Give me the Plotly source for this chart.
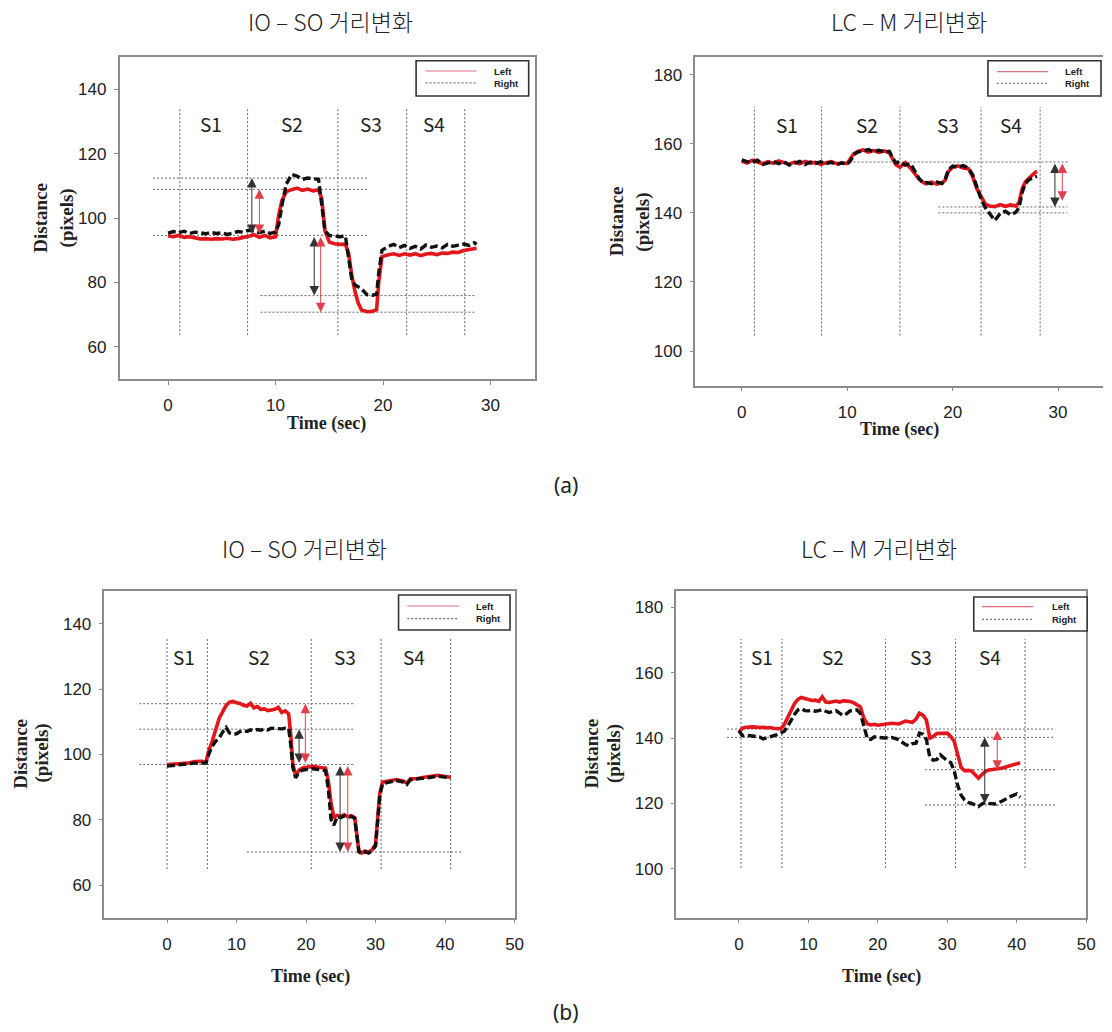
import plotly.graph_objects as go

W, H = 1112, 1032

# ---------------- data ----------------
# (a) IO - SO
a1_t = [0, 0.5, 1, 1.5, 2, 2.5, 3, 3.5, 4, 4.5, 5, 5.5, 6, 6.5, 7, 7.5, 8, 8.5, 9, 9.5, 10,
        10.3, 10.6, 11, 11.5, 12, 12.5, 13, 13.5, 14, 14.3, 14.6, 15, 15.5, 16, 16.5,
        16.8, 17.1, 17.4, 17.7, 18, 18.5, 19, 19.4, 19.6, 19.9,
        20.5, 21, 21.5, 22, 22.5, 23, 23.5, 24, 24.5, 25, 25.5, 26, 26.5, 27, 27.5, 28, 28.5, 28.7]
a1_left = [94.5, 94.2, 94.6, 94.0, 94.2, 93.8, 93.5, 93.6, 93.4, 93.6, 93.5, 93.7, 93.4, 93.6, 93.9, 94.3, 94.8, 94.0, 94.6, 93.8, 94.2,
           101.0, 105.5, 108.2, 108.8, 109.3, 108.6, 109.0, 108.4, 108.8, 106.0, 96.0, 92.5, 92.0, 91.8, 91.9,
           89.0, 82.0, 77.0, 73.5, 71.4, 70.9, 71.0, 71.5, 80.0, 88.0,
           88.6, 88.9, 88.4, 88.9, 88.5, 88.9, 88.3, 88.8, 89.0, 88.6, 89.1, 89.0, 89.4, 89.3, 89.9, 90.2, 90.5, 90.6]
a1_right = [95.3, 95.8, 95.4, 95.9, 95.2, 95.6, 95.4, 95.1, 95.5, 95.2, 95.4, 94.9, 95.3, 95.8, 95.6, 96.2, 96.0, 95.4, 95.9, 95.2, 95.6,
            98.0, 104.0, 110.5, 113.5, 113.0, 112.0, 112.4, 112.2, 112.0, 104.0, 96.0, 94.6, 94.3, 94.2, 94.4,
            88.0, 80.7, 79.2, 78.6, 78.0, 76.2, 76.0, 76.3, 83.0, 90.0,
            91.2, 91.8, 90.8, 91.5, 90.6, 91.2, 90.4, 91.6, 90.9, 91.3, 90.7, 91.8, 91.2, 91.6, 91.9, 91.5, 92.3, 91.8]

# (a) LC - M
a2_t = [0, 0.5, 1, 1.5, 2, 2.5, 3, 3.5, 4, 4.5, 5, 5.5, 6, 6.5, 7, 7.5, 8, 8.5, 9, 9.5, 10,
        10.3, 10.6, 11, 11.5, 12, 12.5, 13, 13.5, 14, 14.3, 14.6, 15, 15.5, 16,
        16.4, 16.8, 17.2, 17.5, 18, 18.5, 19, 19.3, 19.6, 20, 20.5, 21, 21.5,
        21.9, 22.3, 22.7, 23.1, 23.5, 24, 24.5, 25, 25.5, 26,
        26.3, 26.6, 26.9, 27.2, 27.5, 27.8, 28.0]
a2_left = [155.0, 154.4, 155.2, 154.6, 154.2, 154.8, 154.3, 155.0, 154.5, 154.1, 154.7, 154.2, 154.9, 154.4, 154.6, 154.0, 154.5, 154.8, 154.2, 154.4, 154.3,
           155.5, 157.0, 157.8, 158.2, 157.6, 158.0, 157.5, 157.9, 157.4, 155.5, 154.0, 153.2, 154.5, 153.0,
           151.5, 149.8, 148.8, 148.4, 148.9, 148.3, 148.7, 149.5, 152.0, 153.2, 153.6, 153.0, 152.8,
           150.5, 147.0, 144.5, 142.5, 142.0, 141.8, 142.4, 141.9, 142.3, 142.0,
           143.0, 147.0, 149.0, 150.0, 150.8, 151.6, 152.0]
a2_right = [155.3, 154.8, 154.6, 155.2, 154.0, 154.5, 154.9, 154.2, 154.8, 153.8, 154.4, 154.9, 154.0, 154.7, 154.3, 154.8, 154.2, 154.6, 153.9, 154.5, 154.0,
            155.0, 156.8, 157.6, 157.9, 158.3, 157.7, 158.1, 157.6, 157.8, 156.0, 154.5, 154.8, 153.8, 154.3,
            152.0, 150.0, 148.6, 148.8, 148.4, 148.9, 148.5, 149.8, 152.5, 153.5, 153.2, 153.7, 152.9,
            151.0, 147.5, 144.0, 141.5, 140.0, 137.8, 139.8, 140.5, 139.4, 140.2,
            141.5, 146.0, 148.5, 149.5, 150.0, 150.4, 150.6]

# (b) IO - SO
b1_t = [0, 1, 2, 3, 4, 5, 5.6, 6, 6.5, 7, 7.5, 8, 8.5, 9, 9.5, 10, 10.5, 11, 11.5, 12, 12.5, 13, 13.5,
        14, 14.5, 15, 15.5, 16, 16.5, 17, 17.5, 17.8, 18.1, 18.5, 19, 19.5, 20, 21, 22,
        22.8, 23.2, 23.6, 24, 24.5, 25, 25.5, 26, 26.5, 27, 27.3, 27.6, 28, 28.5, 29, 29.5, 30,
        30.3, 30.6, 31, 32, 33, 34, 34.5, 35, 36, 37, 38, 39, 40, 40.8]
b1_left = [96.9, 97.0, 97.2, 97.3, 97.8, 97.9, 97.6, 101.0, 104.0, 107.5, 111.0, 113.0, 115.0, 116.0, 116.2, 115.8, 115.6, 115.0, 114.8, 115.6, 114.2, 114.6, 113.8,
           113.9, 113.4, 113.6, 113.8, 114.4, 112.8, 113.3, 112.4, 106.0, 97.0, 93.5, 95.2, 95.8, 96.0, 96.3, 96.0,
           95.8, 92.0, 85.0, 80.8, 81.3, 81.0, 81.5, 80.9, 81.2, 80.6, 76.0, 70.5, 69.8, 70.4, 70.0, 70.8, 72.5,
           80.0, 88.0, 91.5, 92.0, 92.3, 91.8, 91.2, 92.5, 92.6, 93.0, 93.2, 93.6, 93.2, 93.0]
b1_right = [96.4, 96.7, 97.0, 97.1, 97.3, 97.4, 97.3, 100.0, 102.5, 104.0, 105.0, 106.8, 108.2, 106.5, 106.2, 106.3, 107.0, 107.3, 107.0, 107.5, 107.2, 107.6, 107.4,
            107.8, 107.5, 108.0, 107.9, 108.0, 107.8, 108.0, 107.9, 103.0, 96.0, 92.8, 94.6, 95.2, 95.4, 95.6, 95.3,
            95.0, 89.5, 80.0, 78.3, 81.0, 80.6, 81.2, 80.7, 81.0, 80.4, 75.5, 70.2, 69.6, 70.2, 69.8, 70.5, 72.0,
            79.0, 87.0, 91.0, 91.6, 92.0, 91.5, 90.8, 92.2, 92.4, 92.8, 93.0, 93.3, 93.0, 92.8]

# (b) LC - M
b2_t = [0, 0.5, 1, 2, 3, 3.5, 4, 4.5, 5, 5.5, 6, 6.5, 7, 7.5, 8, 8.5, 9, 9.5, 10, 10.5, 11, 11.5, 12,
        12.5, 13, 13.5, 14, 14.5, 15, 15.5, 16, 16.5, 17, 17.5, 18, 18.5, 19, 19.5, 20, 21, 22, 23, 24,
        24.5, 25, 25.5, 26, 26.5, 27, 27.5, 28, 28.5, 29, 29.5, 30, 30.5, 31, 31.5, 32, 32.5, 33, 33.5,
        34, 34.5, 35, 35.5, 36, 37, 38, 39, 40, 40.5]
b2_left = [141.7, 143.0, 143.3, 143.4, 143.2, 143.3, 143.1, 143.2, 143.0, 142.9, 142.8, 144.0, 146.0, 148.5, 150.5, 151.8, 152.4, 152.1, 151.8, 151.5, 151.6, 151.2, 152.6,
           151.0, 150.9, 151.2, 151.3, 151.0, 151.4, 151.3, 151.2, 150.8, 150.3, 149.5, 146.0, 144.3, 144.0, 144.2, 143.9, 144.3, 144.5, 144.3, 145.2,
           145.0, 144.8, 145.8, 147.6, 147.0, 145.5, 140.0, 140.5, 141.4, 141.5, 141.6, 141.5, 140.5, 139.0, 135.0, 131.0, 130.0, 130.1, 129.9,
           128.8, 127.7, 128.8, 129.8, 130.2, 130.4, 130.8, 131.5, 132.0, 132.4]
b2_right = [142.2, 140.7, 140.9, 140.5, 140.3, 139.7, 140.0, 140.4, 140.8, 141.0, 141.5, 142.0, 143.5, 145.5, 147.2, 148.6, 149.0, 148.4, 148.3, 148.5, 148.2, 148.4, 148.7,
            148.2, 147.8, 148.1, 148.4, 147.6, 146.9, 147.4, 148.3, 148.4, 148.6, 147.5, 143.5, 139.8, 139.6, 140.4, 140.2, 140.0, 140.2, 139.5, 138.0,
            137.6, 138.3, 138.4, 141.5, 141.2, 139.5, 134.0, 133.2, 133.4, 134.9, 133.8, 133.0, 132.5, 130.0, 125.5, 122.5, 121.0, 120.3, 120.0,
            119.5, 119.0, 119.8, 120.3, 120.0, 119.8, 120.8, 122.0, 122.9, 121.9]

# guide lines: phase boundaries (sec), phase labels, reference levels (value, t_start, t_end), arrows (t, from, to, colour)
a1_bounds = [1.1, 7.4, 15.8, 22.2, 27.6]
a1_bound_span = [63.6, 134.4]
a1_phase_t = [4.0, 11.5, 18.9, 24.7]
a1_phase_v = 129.3
a1_levels = [(112.4, -1.4, 18.65), (108.9, -1.4, 18.65), (94.6, -1.4, 18.65), (75.9, 8.6, 28.6), (70.75, 8.6, 28.6)]
a1_arrows = [(7.8, 94.6, 112.4, "k"), (8.5, 94.6, 108.9, "r"), (13.6, 94.6, 75.9, "k"), (14.2, 94.6, 70.75, "r")]

a2_bounds = [1.2, 7.57, 15.0, 22.7, 28.3]
a2_bound_span = [104.5, 170.7]
a2_phase_t = [4.3, 11.9, 19.6, 25.5]
a2_phase_v = 165.7
a2_levels = [(154.7, 10.6, 30.9), (141.7, 18.65, 30.9), (140.0, 18.65, 30.9)]
a2_arrows = [(29.7, 154.7, 141.7, "k"), (30.4, 154.7, 143.5, "r")]

b1_bounds = [0.0, 5.8, 20.75, 30.8, 40.8]
b1_bound_span = [64.9, 135.4]
b1_phase_t = [2.5, 13.3, 25.6, 35.6]
b1_phase_v = 129.9
b1_levels = [(115.5, -4.0, 26.8), (107.7, -4.0, 26.8), (96.9, -4.0, 26.8), (70.1, 11.5, 42.3)]
b1_arrows = [(19.0, 96.9, 107.7, "k"), (19.9, 96.9, 115.5, "r"), (24.9, 96.9, 70.1, "k"), (26.0, 96.9, 70.1, "r")]

b2_bounds = [0.3, 6.2, 21.1, 31.2, 41.2]
b2_bound_span = [100.2, 170.3]
b2_phase_t = [3.3, 13.6, 26.2, 36.2]
b2_phase_v = 164.9
b2_levels = [(142.75, -1.7, 45.5), (140.2, -1.7, 45.5), (130.3, 26.8, 45.5), (119.5, 26.8, 45.5)]
b2_arrows = [(35.4, 119.5, 140.2, "k"), (37.2, 142.75, 130.3, "r")]

phase_names = ["S1", "S2", "S3", "S4"]
titles = ["IO – SO 거리변화", "LC – M 거리변화", "IO – SO 거리변화", "LC – M 거리변화"]
series_names = ["Left", "Right"]
captions = ["(a)", "(b)"]

# ---------------- styling / layout ----------------
RED = "#e3161c"
BLK = "#111111"
AXC = "#8c8c8c"
GUIDE = "#666666"


def PX(x):
    return x / W


def PY(y):
    return 1 - y / H


panels = [
    dict(t=a1_t, L=a1_left, R=a1_right, bounds=a1_bounds, span=a1_bound_span, pt=a1_phase_t, pv=a1_phase_v,
         levels=a1_levels, arrows=a1_arrows, xr=[-4.5, 34.1], yr=[50, 150], xt=[0, 10, 20, 30], yt=[60, 80, 100, 120, 140],
         px=(120.6, 539.0), py=(57.0, 379.0), mirror_y=True,
         title=(333, 21), xtitle=(329, 423), ytitle=((41, 218), (68, 218)),
         leg=dict(box=(419.5, 60.7, 533, 96), lx=(429, 480.5), ly=(71, 83), tx=496.5)),
    dict(t=a2_t, L=a2_left, R=a2_right, bounds=a2_bounds, span=a2_bound_span, pt=a2_phase_t, pv=a2_phase_v,
         levels=a2_levels, arrows=a2_arrows, xr=[-4.4, 34.26], yr=[90, 185], xt=[0, 10, 20, 30], yt=[100, 120, 140, 160, 180],
         px=(701.0, 1112.0), py=(57.3, 385.7), mirror_y=False,
         title=(916, 21), xtitle=(907, 429), ytitle=((621.6, 221.7), (648.2, 221.7)),
         leg=dict(box=(996, 60.7, 1110, 96), lx=(1005, 1056.7), ly=(71.7, 83.3), tx=1072)),
    dict(t=b1_t, L=b1_left, R=b1_right, bounds=b1_bounds, span=b1_bound_span, pt=b1_phase_t, pv=b1_phase_v,
         levels=b1_levels, arrows=b1_arrows, xr=[-9, 50], yr=[50, 150], xt=[0, 10, 20, 30, 40, 50], yt=[60, 80, 100, 120, 140],
         px=(105.3, 518.8), py=(591.0, 917.7), mirror_y=True,
         title=(306.7, 548.3), xtitle=(313, 976), ytitle=((20.5, 753.3), (42.5, 753.3)),
         leg=dict(box=(401.8, 595, 514.2, 630), lx=(410.6, 462.8), ly=(606, 618.7), tx=478)),
    dict(t=b2_t, L=b2_left, R=b2_right, bounds=b2_bounds, span=b2_bound_span, pt=b2_phase_t, pv=b2_phase_v,
         levels=b2_levels, arrows=b2_arrows, xr=[-9, 50], yr=[85, 185], xt=[0, 10, 20, 30, 40, 50], yt=[100, 120, 140, 160, 180],
         px=(681.9, 1095.0), py=(591.0, 917.7), mirror_y=True,
         title=(886.5, 548), xtitle=(888.4, 976), ytitle=((596, 753.3), (619.8, 753.3)),
         leg=dict(box=(981.7, 597, 1096, 631), lx=(990, 1041.7), ly=(606.7, 619.3), tx=1058.3)),
]

fig = go.Figure()
shapes = []
annotations = []
layout_axes = {}

for i, p in enumerate(panels):
    s = "" if i == 0 else str(i + 1)
    xa, ya = "x" + s, "y" + s
    fig.add_trace(go.Scatter(x=p["t"], y=p["L"], mode="lines", name=series_names[0],
                             line=dict(color=RED, width=3.6), xaxis=xa, yaxis=ya, showlegend=False))
    fig.add_trace(go.Scatter(x=p["t"], y=p["R"], mode="lines", name=series_names[1],
                             line=dict(color=BLK, width=3.4, dash="8px,3.5px"), xaxis=xa, yaxis=ya, showlegend=False))

    common = dict(showline=True, linecolor=AXC, linewidth=1.5, ticks="outside", ticklen=4, tickwidth=1,
                  tickcolor=AXC, showgrid=False, zeroline=False,
                  tickfont=dict(family="Liberation Sans, Arial", size=17, color="#222"))
    layout_axes["xaxis" + s] = dict(common, domain=[PX(p["px"][0]), PX(p["px"][1])], range=p["xr"],
                                    tickvals=p["xt"], anchor=ya, mirror=True, ticklabelstandoff=6)
    layout_axes["yaxis" + s] = dict(common, domain=[PY(p["py"][1]), PY(p["py"][0])], range=p["yr"],
                                    tickvals=p["yt"], anchor=xa, mirror=p["mirror_y"], ticklabelstandoff=4)

    # phase boundaries
    for b in p["bounds"]:
        shapes.append(dict(type="line", xref=xa, yref=ya, x0=b, x1=b, y0=p["span"][0], y1=p["span"][1],
                           line=dict(color=GUIDE, width=1, dash="2px,2px"), layer="below"))
    # reference levels
    for v, t0, t1 in p["levels"]:
        shapes.append(dict(type="line", xref=xa, yref=ya, x0=t0, x1=t1, y0=v, y1=v,
                           line=dict(color=GUIDE, width=1, dash="2px,2px"), layer="below"))
    # arrows
    for t, v0, v1, c in p["arrows"]:
        col = "#333333" if c == "k" else "#e0404a"
        annotations.append(dict(x=t, y=v1, ax=t, ay=v0, xref=xa, yref=ya, axref=xa, ayref=ya, text="",
                                showarrow=True, arrowhead=2, arrowside="end+start", arrowsize=1.9,
                                arrowwidth=1, arrowcolor=col))
    # phase labels
    for name, t in zip(phase_names, p["pt"]):
        annotations.append(dict(x=t, y=p["pv"], xref=xa, yref=ya, text=name, showarrow=False,
                                font=dict(family="Noto Sans CJK KR", size=19, color="#222")))
    # titles
    annotations.append(dict(x=PX(p["title"][0]), y=PY(p["title"][1]), xref="paper", yref="paper",
                            text=titles[i], showarrow=False, xanchor="center", yanchor="middle",
                            font=dict(family="Noto Sans CJK KR", size=23, color="#222", weight=300)))
    annotations.append(dict(x=PX(p["xtitle"][0]), y=PY(p["xtitle"][1]), xref="paper", yref="paper",
                            text="<b>Time (sec)</b>", showarrow=False, xanchor="center", yanchor="middle",
                            font=dict(family="Liberation Serif, Times New Roman", size=18, color="#222")))
    for txt, (tx, ty) in zip(["<b>Distance</b>", "<b>(pixels)</b>"], p["ytitle"]):
        annotations.append(dict(x=PX(tx), y=PY(ty), xref="paper", yref="paper", text=txt, textangle=-90,
                                showarrow=False, xanchor="center", yanchor="middle",
                                font=dict(family="Liberation Serif, Times New Roman", size=19, color="#222")))
    # legend box
    lg = p["leg"]
    bx0, by0, bx1, by1 = lg["box"]
    shapes.append(dict(type="rect", xref="paper", yref="paper", x0=PX(bx0), x1=PX(bx1), y0=PY(by1), y1=PY(by0),
                       line=dict(color="#333", width=1.6), fillcolor="white"))
    shapes.append(dict(type="line", xref="paper", yref="paper", x0=PX(lg["lx"][0]), x1=PX(lg["lx"][1]),
                       y0=PY(lg["ly"][0]), y1=PY(lg["ly"][0]), line=dict(color="#e07080", width=1.2)))
    shapes.append(dict(type="line", xref="paper", yref="paper", x0=PX(lg["lx"][0]), x1=PX(lg["lx"][1]),
                       y0=PY(lg["ly"][1]), y1=PY(lg["ly"][1]), line=dict(color="#555", width=1, dash="2px,2px")))
    for name, ly in zip(series_names, lg["ly"]):
        annotations.append(dict(x=PX(lg["tx"]), y=PY(ly), xref="paper", yref="paper", text="<b>" + name + "</b>",
                                showarrow=False, xanchor="left", yanchor="middle", align="left",
                                font=dict(family="Liberation Sans, Arial", size=9.5, color="#222")))

# captions
for cap, (cx, cy) in zip(captions, [(571, 485), (571, 1012)]):
    annotations.append(dict(x=PX(cx), y=PY(cy), xref="paper", yref="paper", text=cap, showarrow=False,
                            xanchor="center", yanchor="middle",
                            font=dict(family="Noto Sans, Liberation Sans", size=21, color="#222")))

fig.update_layout(width=W, height=H, margin=dict(l=0, r=0, t=0, b=0), paper_bgcolor="white",
                  plot_bgcolor="white", showlegend=False, shapes=shapes, annotations=annotations, **layout_axes)

fig.write_html("out.html", config={"displayModeBar": False},
               post_script="document.body.style.margin='0';document.body.style.overflow='hidden';")
